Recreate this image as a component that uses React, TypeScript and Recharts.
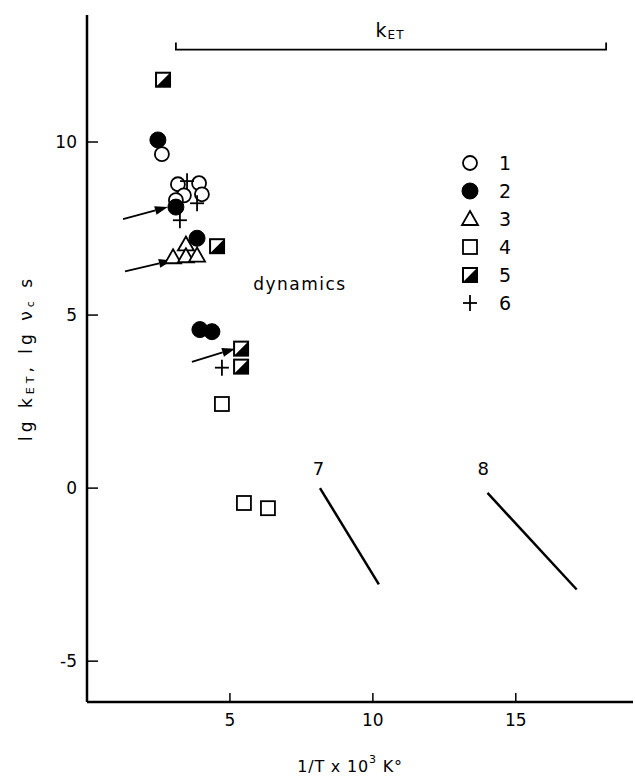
import React from 'react';
import { ScatterChart, Scatter, XAxis, YAxis, ReferenceLine, ReferenceDot, Legend } from 'recharts';

const FONT = "'DejaVu Sans', sans-serif";

const xTicks = [5, 10, 15];
const yTicks = [-5, 0, 5, 10];

// series 1: open circles
const series1 = [
  { x: 2.62, y: 9.65 }, { x: 3.18, y: 8.78 }, { x: 3.92, y: 8.81 },
  { x: 3.39, y: 8.46 }, { x: 4.02, y: 8.49 }, { x: 3.11, y: 8.32 },
];
// series 2: filled circles
const series2 = [
  { x: 2.48, y: 10.06 }, { x: 3.11, y: 8.12 }, { x: 3.85, y: 7.22 },
  { x: 3.95, y: 4.58 }, { x: 4.37, y: 4.52 },
];
// series 3: open triangles
const series3 = [
  { x: 3.46, y: 7.04 }, { x: 3.01, y: 6.67 }, { x: 3.46, y: 6.7 }, { x: 3.85, y: 6.72 },
];
// series 4: open squares
const series4 = [
  { x: 4.72, y: 2.43 }, { x: 5.49, y: -0.43 }, { x: 6.33, y: -0.58 },
];
// series 5: half-filled squares
const series5 = [
  { x: 2.66, y: 11.8 }, { x: 4.55, y: 6.99 }, { x: 5.39, y: 4.03 }, { x: 5.39, y: 3.51 },
];
// series 6: plus signs
const series6 = [
  { x: 3.5, y: 8.87 }, { x: 3.85, y: 8.23 }, { x: 3.25, y: 7.74 }, { x: 4.72, y: 3.48 },
];
// lines 7 and 8
const line7 = [{ x: 8.15, y: 0.0 }, { x: 10.21, y: -2.78 }];
const line8 = [{ x: 14.01, y: -0.14 }, { x: 17.13, y: -2.93 }];

const legendLabels = ['1', '2', '3', '4', '5', '6'];

const arrows = [
  [{ x: 1.26, y: 7.77 }, { x: 2.83, y: 8.12 }],
  [{ x: 1.33, y: 6.26 }, { x: 2.97, y: 6.58 }],
  [{ x: 3.67, y: 3.65 }, { x: 5.18, y: 4.03 }],
];
const bracket = [{ x: 3.11, y: 12.67 }, { x: 18.16, y: 12.67 }];

const SW = 1.8;
const drawMarker = (kind: number, cx: number, cy: number) => {
  switch (kind) {
    case 0:
      return <circle cx={cx} cy={cy} r={7} fill="#fff" stroke="#000" strokeWidth={SW} />;
    case 1:
      return <circle cx={cx} cy={cy} r={8} fill="#000" stroke="#000" strokeWidth={1} />;
    case 2:
      return <polygon points={`${cx},${cy - 8} ${cx + 8},${cy + 6} ${cx - 8},${cy + 6}`} fill="#fff" stroke="#000" strokeWidth={SW} />;
    case 3:
      return <rect x={cx - 7} y={cy - 7} width={14} height={14} fill="#fff" stroke="#000" strokeWidth={SW} />;
    case 4:
      return (
        <g>
          <rect x={cx - 7} y={cy - 7} width={14} height={14} fill="#fff" stroke="#000" strokeWidth={2} />
          <polygon points={`${cx + 7},${cy - 7} ${cx + 7},${cy + 7} ${cx - 7},${cy + 7}`} fill="#000" />
        </g>
      );
    default:
      return (
        <g stroke="#000" strokeWidth={SW}>
          <line x1={cx - 7} y1={cy} x2={cx + 7} y2={cy} />
          <line x1={cx} y1={cy - 8} x2={cx} y2={cy + 8} />
        </g>
      );
  }
};

const shapeFor = (kind: number) => (p: any) => drawMarker(kind, p.cx, p.cy);

const XTick = (p: any) => (
  <g>
    <line x1={p.x} y1={p.y} x2={p.x} y2={p.y - 9} stroke="#000" strokeWidth={1.5} />
    <text x={p.x} y={p.y + 24} textAnchor="middle" fontSize={17} fontFamily={FONT} fill="#000">
      {p.payload.value}
    </text>
  </g>
);

const YTick = (p: any) => (
  <g>
    <line x1={p.x} y1={p.y} x2={p.x + 11} y2={p.y} stroke="#000" strokeWidth={1.5} />
    <text x={p.x - 10} y={p.y + 6} textAnchor="end" fontSize={17} fontFamily={FONT} fill="#000">
      {p.payload.value}
    </text>
  </g>
);

const Arrow = (p: any) => {
  const { x1, y1, x2, y2 } = p;
  const ang = Math.atan2(y2 - y1, x2 - x1);
  const L = 13, W = 4.5;
  const bx = x2 - L * Math.cos(ang), by = y2 - L * Math.sin(ang);
  const px = -Math.sin(ang) * W, py = Math.cos(ang) * W;
  return (
    <g>
      <line x1={x1} y1={y1} x2={bx} y2={by} stroke="#000" strokeWidth={1.8} />
      <polygon points={`${x2},${y2} ${bx + px},${by + py} ${bx - px},${by - py}`} fill="#000" />
    </g>
  );
};

const Bracket = (p: any) => {
  const { x1, y1, x2, y2 } = p;
  return <path d={`M${x1},${y1 - 7} L${x1},${y1} L${x2},${y2} L${x2},${y2 - 7}`} fill="none" stroke="#000" strokeWidth={1.8} />;
};

const TextAt = (content: React.ReactNode, size = 17, spacing = 1) => (p: any) => (
  <text x={p.cx} y={p.cy} textAnchor="middle" dominantBaseline="central" fontSize={size} fontFamily={FONT} letterSpacing={spacing} fill="#000">
    {content}
  </text>
);

const LegendBox = () => (
  <svg width={80} height={175}>
    {legendLabels.map((lab, i) => (
      <g key={lab}>
        {drawMarker(i, 11, 13 + i * 28)}
        <text x={40} y={13 + i * 28 + 7} fontSize={19} fontFamily={FONT} fill="#000">{lab}</text>
      </g>
    ))}
  </svg>
);

const YLabel = (props: any) => {
  const cx = 26;
  const cy = 358;
  return (
    <text x={cx} y={cy} transform={`rotate(-90 ${cx} ${cy})`} textAnchor="middle" dominantBaseline="central" fontSize={17} fontFamily={FONT} letterSpacing={4} fill="#000">
      <tspan>lg k</tspan>
      <tspan fontSize={11} dy={4}>ET</tspan>
      <tspan dy={-4}>,  lg ν</tspan>
      <tspan fontSize={11} dy={4}>c</tspan>
      <tspan dy={-4}> s</tspan>
    </text>
  );
};

const XLabel = (props: any) => {
  const cx = 350;
  const cy = 766;
  return (
    <text x={cx} y={cy} textAnchor="middle" dominantBaseline="central" fontSize={16} fontFamily={FONT} letterSpacing={0.8} fill="#000">
      <tspan>1/T x 10</tspan>
      <tspan fontSize={11} dy={-7}>3</tspan>
      <tspan dy={7}> K°</tspan>
    </text>
  );
};

export default function App() {
  return (
    <div style={{ position: 'absolute', left: 0, top: 0, width: 635, height: 776, background: '#fff' }}>
      <ScatterChart width={635} height={776} margin={{ top: 15, right: 2, bottom: 44, left: 27 }}>
        <XAxis
          type="number"
          dataKey="x"
          domain={[0, 19.1]}
          ticks={xTicks}
          allowDataOverflow
          tickSize={0}
          tickMargin={0}
          tickLine={false}
          tick={<XTick />}
          axisLine={{ stroke: '#000', strokeWidth: 2.5 }}
          height={30}
          label={{ content: XLabel }}
        />
        <YAxis
          type="number"
          dataKey="y"
          domain={[-6.18, 13.67]}
          ticks={yTicks}
          allowDataOverflow
          tickSize={0}
          tickMargin={0}
          tickLine={false}
          tick={<YTick />}
          axisLine={{ stroke: '#000', strokeWidth: 2.5 }}
          width={60}
          label={{ content: YLabel }}
        />
        <Legend
          layout="vertical"
          align="center"
          verticalAlign="middle"
          wrapperStyle={{ position: 'absolute', left: 459, top: 150, width: 80, height: 175 }}
          content={<LegendBox />}
        />
        <ReferenceLine segment={bracket} ifOverflow="visible" shape={Bracket} />
        {arrows.map((seg, i) => (
          <ReferenceLine key={'a' + i} segment={seg} ifOverflow="visible" shape={Arrow} />
        ))}
        <ReferenceDot x={10.6} y={13.25} r={1} ifOverflow="visible" shape={TextAt(<><tspan>k</tspan><tspan fontSize={12} dy={5}>ET</tspan></>, 19, 1)} />
        <ReferenceDot x={7.45} y={5.91} r={1} ifOverflow="visible" shape={TextAt('dynamics', 17, 1.5)} />
        <ReferenceDot x={8.1} y={0.58} r={1} ifOverflow="visible" shape={TextAt('7', 18, 0)} />
        <ReferenceDot x={13.86} y={0.58} r={1} ifOverflow="visible" shape={TextAt('8', 18, 0)} />
        <Scatter data={line7} line={{ stroke: '#000', strokeWidth: 2.5 }} shape={() => <g />} isAnimationActive={false} />
        <Scatter data={line8} line={{ stroke: '#000', strokeWidth: 2.5 }} shape={() => <g />} isAnimationActive={false} />
        <Scatter data={series1} shape={shapeFor(0)} isAnimationActive={false} />
        <Scatter data={series2} shape={shapeFor(1)} isAnimationActive={false} />
        <Scatter data={series3} shape={shapeFor(2)} isAnimationActive={false} />
        <Scatter data={series4} shape={shapeFor(3)} isAnimationActive={false} />
        <Scatter data={series5} shape={shapeFor(4)} isAnimationActive={false} />
        <Scatter data={series6} shape={shapeFor(5)} isAnimationActive={false} />
      </ScatterChart>
    </div>
  );
}
